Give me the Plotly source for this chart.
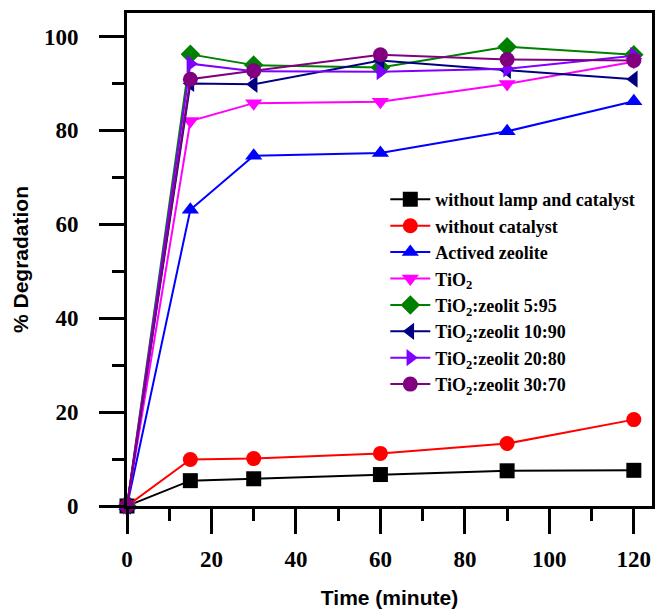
import plotly.graph_objects as go

time_min = [0, 15, 30, 60, 90, 120]

series_names = [
    "without lamp and catalyst",
    "without catalyst",
    "Actived zeolite",
    "TiO<sub>2</sub>",
    "TiO<sub>2</sub>:zeolit 5:95",
    "TiO<sub>2</sub>:zeolit 10:90",
    "TiO<sub>2</sub>:zeolit 20:80",
    "TiO<sub>2</sub>:zeolit 30:70",
]

without_lamp_and_catalyst = [0, 5.4, 5.8, 6.7, 7.5, 7.6]
without_catalyst = [0, 9.9, 10.1, 11.2, 13.3, 18.4]
actived_zeolite = [0, 63.1, 74.6, 75.2, 79.8, 86.2]
tio2 = [0, 82.0, 85.8, 86.1, 89.9, 94.6]
tio2_zeolit_5_95 = [0, 96.2, 93.9, 93.4, 97.8, 96.1]
tio2_zeolit_10_90 = [0, 90.0, 89.8, 94.9, 92.8, 90.9]
tio2_zeolit_20_80 = [0, 94.2, 92.6, 92.5, 93.1, 95.9]
tio2_zeolit_30_70 = [0, 90.9, 92.7, 96.1, 95.1, 94.9]

series_values = [
    without_lamp_and_catalyst,
    without_catalyst,
    actived_zeolite,
    tio2,
    tio2_zeolit_5_95,
    tio2_zeolit_10_90,
    tio2_zeolit_20_80,
    tio2_zeolit_30_70,
]

colors = ["#000000", "#FF0000", "#0000FF", "#FF00FF", "#008000", "#000080", "#8000FF", "#800080"]
symbols = ["square", "circle", "triangle-up", "triangle-down", "diamond",
           "triangle-left", "triangle-right", "circle"]

x_ticks = [0, 20, 40, 60, 80, 100, 120]
y_ticks = [0, 20, 40, 60, 80, 100]

fig = go.Figure()
for name, vals, c, s in zip(series_names, series_values, colors, symbols):
    fig.add_trace(go.Scatter(
        x=time_min, y=vals, name=name, mode="lines+markers",
        line=dict(color=c, width=2),
        marker=dict(color=c, symbol=s, size=15, line=dict(width=0)),
        cliponaxis=False,
    ))

tick_font = dict(family="Liberation Serif, Times New Roman, serif", size=23, color="#000000", weight="bold")
title_font = dict(family="Liberation Sans Narrow, Arial Narrow, Liberation Sans, Arial", size=21, color="#000000")

fig.update_layout(
    width=657, height=613,
    margin=dict(l=127, r=5, t=13, b=107),
    paper_bgcolor="white", plot_bgcolor="white",
    showlegend=True,
    legend=dict(
        x=0.492, y=0.659, xanchor="left", yanchor="top",
        bgcolor="rgba(0,0,0,0)",
        font=dict(family="Liberation Serif, Times New Roman, serif", size=18, color="#000000", weight="bold"),
        tracegroupgap=0, itemwidth=40,
    ),
    xaxis=dict(
        range=[0, 124.3], tickvals=x_ticks, ticktext=[str(v) for v in x_ticks],
        automargin=False,
        showgrid=False, zeroline=False, showline=True, linecolor="black", linewidth=3,
        mirror=True, ticks="outside", ticklen=25, tickwidth=3, tickcolor="black",
        minor=dict(tickvals=[10, 30, 50, 70, 90, 110], ticks="outside", ticklen=12, tickwidth=3, tickcolor="black"),
        tickfont=tick_font, ticklabelstandoff=5,
        title=dict(text="<b>Time (minute)</b>", font=title_font, standoff=20),
    ),
    yaxis=dict(
        range=[0, 105], tickvals=y_ticks, ticktext=[str(v) for v in y_ticks],
        automargin=False,
        showgrid=False, zeroline=False, showline=True, linecolor="black", linewidth=3,
        mirror=True, ticks="outside", ticklen=25, tickwidth=3, tickcolor="black",
        minor=dict(tickvals=[10, 30, 50, 70, 90], ticks="outside", ticklen=12, tickwidth=3, tickcolor="black"),
        tickfont=tick_font, ticklabelstandoff=16,
        title=dict(text="<b>% Degradation</b>", font=title_font, standoff=10),
    ),
)

fig.write_html(
    "out.html",
    config={"displayModeBar": False},
    post_script="document.body.style.margin='0';document.body.style.padding='0';",
)
